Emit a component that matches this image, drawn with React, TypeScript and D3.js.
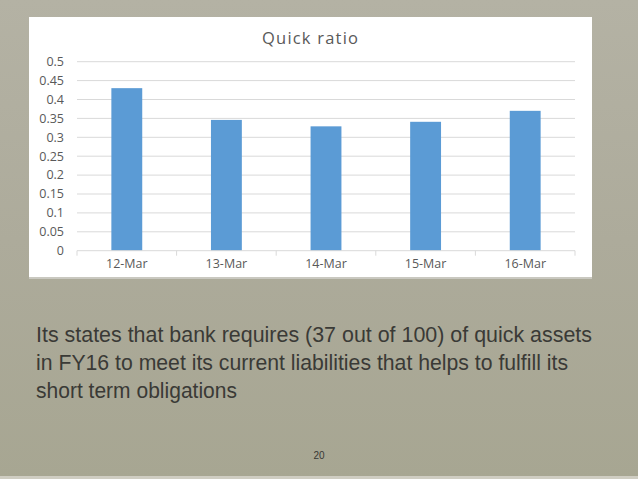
import * as d3 from "d3";

const categories = ["12-Mar", "13-Mar", "14-Mar", "15-Mar", "16-Mar"];
const quickRatio = [0.43, 0.346, 0.329, 0.341, 0.37];
const yTicks = [0, 0.05, 0.1, 0.15, 0.2, 0.25, 0.3, 0.35, 0.4, 0.45, 0.5];
const bodyLines = [
  "Its states that bank requires (37 out of 100) of  quick assets",
  "in FY16 to meet its current liabilities that helps to fulfill its",
  "short term obligations",
];

const W = 638;
const H = 479;
const box = { x: 29, y: 17, w: 563, h: 260 };
const plot = { left: 77, right: 575, top: 61.7, bottom: 250.7 };
const chartFont = "'Open Sans', sans-serif";

export default function App() {
  const x = d3
    .scaleBand<string>()
    .domain(categories)
    .range([plot.left, plot.right])
    .padding(0);
  const y = d3.scaleLinear().domain([0, 0.5]).range([plot.bottom, plot.top]);
  const barW = x.bandwidth() * 0.31;
  const fmt = (v: number) => (v === 0 ? "0" : String(+v.toFixed(2)));

  return (
    <div style={{ position: "fixed", left: 0, top: 0 }}>
      <svg width={W} height={H} style={{ display: "block" }}>
        <defs>
          <linearGradient id="bg" x1="0" y1="0" x2="0" y2="1">
            <stop offset="0" stopColor="#b4b2a4" />
            <stop offset="0.5" stopColor="#adab9b" />
            <stop offset="1" stopColor="#a7a692" />
          </linearGradient>
        </defs>
        <rect width={W} height={H} fill="url(#bg)" />
        <rect x={0} y={H - 3} width={W} height={3} fill="#cfcdc2" />

        {/* chart box */}
        <rect x={box.x} y={box.y} width={box.w} height={box.h + 2} fill="#c9c8c0" />
        <rect x={box.x} y={box.y} width={box.w} height={box.h} fill="#ffffff" />

        <text
          x={310}
          y={44}
          textAnchor="middle"
          fontFamily={chartFont}
          fontSize={16.5}
          fill="#595959"
          textLength={96}
          lengthAdjust="spacing"
        >
          Quick ratio
        </text>

        {yTicks.map((t) => (
          <g key={t}>
            {t > 0 && (
              <line
                x1={plot.left}
                x2={plot.right}
                y1={y(t)}
                y2={y(t)}
                stroke="#d9d9d9"
                strokeWidth={1}
              />
            )}
            <text
              x={64}
              y={y(t)}
              dy="0.35em"
              textAnchor="end"
              fontFamily={chartFont}
              fontSize={12.5}
              fill="#595959"
            >
              {fmt(t)}
            </text>
          </g>
        ))}

        {quickRatio.map((v, i) => (
          <rect
            key={categories[i]}
            x={x(categories[i])! + (x.bandwidth() - barW) / 2}
            y={y(v)}
            width={barW}
            height={y(0) - y(v)}
            fill="#5b9bd5"
          />
        ))}

        <line
          x1={plot.left}
          x2={plot.right}
          y1={y(0)}
          y2={y(0)}
          stroke="#d9d9d9"
          strokeWidth={1}
        />
        {[...categories.map((c) => x(c)!), plot.right].map((tx, i) => (
          <line
            key={i}
            x1={tx}
            x2={tx}
            y1={y(0)}
            y2={y(0) + 5}
            stroke="#d9d9d9"
            strokeWidth={1}
          />
        ))}
        {categories.map((c) => (
          <text
            key={c}
            x={x(c)! + x.bandwidth() / 2}
            y={267.5}
            textAnchor="middle"
            fontFamily={chartFont}
            fontSize={12.5}
            fill="#595959"
          >
            {c}
          </text>
        ))}

        {bodyLines.map((line, i) => (
          <text
            key={i}
            x={36}
            y={342 + i * 28}
            fontFamily="'Liberation Sans', Arial, sans-serif"
            fontSize={21.5}
            fill="#3a3a36"
            textLength={[556, 532, 201][i]}
            lengthAdjust="spacingAndGlyphs"
          >
            {line}
          </text>
        ))}

        <text
          x={319}
          y={459}
          textAnchor="middle"
          fontFamily="'Liberation Sans', Arial, sans-serif"
          fontSize={10}
          fill="#383835"
        >
          20
        </text>
      </svg>
    </div>
  );
}
